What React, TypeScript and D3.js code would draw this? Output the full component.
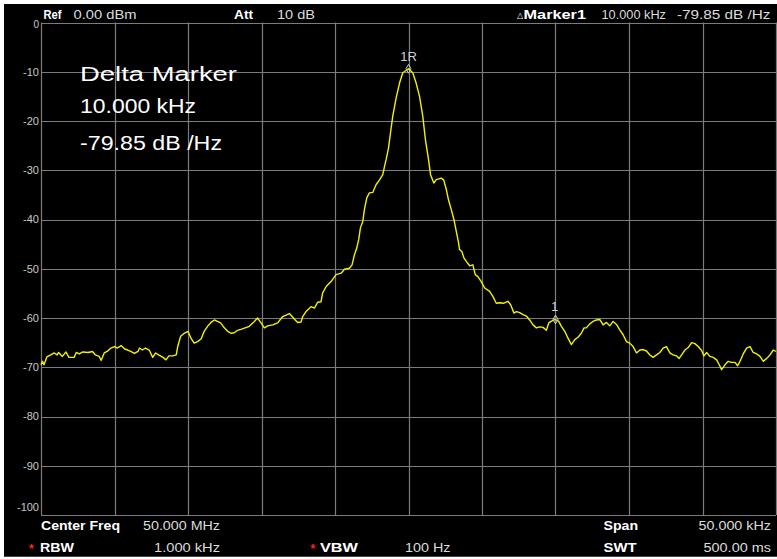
import React from "react";
import * as d3 from "d3";

// ---- data ----
const spanKHz: [number, number] = [-25, 25]; // offset from 50.000 MHz centre
const refLevelDb: [number, number] = [-100, 0];
const yTicks = [0, -10, -20, -30, -40, -50, -60, -70, -80, -90, -100];
const xGridKHz = [-25, -20, -15, -10, -5, 0, 5, 10, 15, 20, 25];

// trace: [offset kHz, level dBm]
const tracePoints: [number, number][] = [
  [-25.0,-69.5],[-24.9,-68.8],[-24.8,-69.5],[-24.6,-67.9],[-24.34,-67.5],[-24.1,-67.1],[-23.9,-67.5],[-23.8,-67.0],
  [-23.55,-67.8],[-23.3,-66.9],[-23.1,-68.0],[-22.75,-68.0],[-22.6,-67.0],[-22.4,-67.3],[-22.15,-66.9],[-21.8,-67.0],
  [-21.5,-66.8],[-21.3,-67.5],[-21.05,-67.8],[-20.9,-68.6],[-20.7,-67.1],[-20.5,-66.8],[-20.25,-66.1],[-20.0,-65.8],
  [-19.8,-66.1],[-19.55,-65.6],[-19.3,-66.3],[-19.1,-66.5],[-18.9,-66.8],[-18.65,-67.2],[-18.4,-66.8],[-18.3,-66.1],
  [-18.1,-66.5],[-17.9,-66.1],[-17.64,-66.5],[-17.4,-68.0],[-17.2,-67.1],[-17.0,-67.5],[-16.7,-68.0],[-16.5,-68.5],
  [-16.3,-67.7],[-16.05,-67.7],[-15.8,-67.5],[-15.7,-65.8],[-15.5,-63.7],[-15.26,-63.1],[-15.0,-62.7],[-14.8,-64.1],
  [-14.58,-65.1],[-14.35,-64.8],[-14.1,-64.2],[-13.9,-62.7],[-13.67,-61.7],[-13.44,-60.9],[-13.2,-60.4],[-13.0,-60.7],
  [-12.78,-61.0],[-12.53,-62.0],[-12.3,-62.7],[-12.08,-63.1],[-11.85,-63.0],[-11.63,-62.5],[-11.4,-62.3],[-10.83,-61.7],
  [-10.49,-60.7],[-10.27,-60.0],[-10.03,-61.0],[-9.81,-62.0],[-9.58,-61.6],[-9.24,-61.4],[-8.9,-61.0],[-8.56,-59.7],
  [-8.1,-59.1],[-7.77,-60.2],[-7.54,-60.9],[-7.31,-60.8],[-7.2,-59.7],[-6.97,-58.7],[-6.63,-57.7],[-6.4,-58.0],
  [-6.18,-56.8],[-5.95,-56.7],[-5.84,-54.9],[-5.6,-53.6],[-5.27,-52.6],[-4.93,-51.2],[-4.58,-50.9],[-4.36,-50.1],
  [-4.02,-49.9],[-3.84,-49.2],[-3.68,-47.2],[-3.52,-45.8],[-3.39,-44.1],[-3.27,-41.7],[-3.11,-40.4],[-3.0,-38.0],
  [-2.84,-35.6],[-2.66,-34.6],[-2.43,-34.5],[-2.2,-32.9],[-1.98,-32.0],[-1.75,-30.9],[-1.63,-29.2],[-1.52,-27.8],
  [-1.36,-25.5],[-1.23,-22.5],[-1.07,-19.0],[-0.84,-15.3],[-0.61,-12.3],[-0.39,-10.2],[0,-9.4],[0.29,-10.2],
  [0.52,-12.3],[0.75,-15.0],[0.97,-19.0],[1.16,-24.0],[1.36,-27.8],[1.5,-30.9],[1.72,-32.6],[1.89,-31.9],
  [2.23,-31.6],[2.4,-32.0],[2.57,-33.9],[2.72,-36.0],[2.91,-38.0],[3.09,-40.0],[3.25,-42.4],[3.41,-44.8],
  [3.47,-46.1],[3.63,-46.5],[3.77,-47.8],[3.93,-48.5],[4.16,-49.4],[4.38,-49.2],[4.54,-51.2],[4.72,-51.6],
  [4.95,-52.6],[5.18,-53.9],[5.52,-54.6],[5.74,-55.6],[5.97,-57.0],[6.2,-56.9],[6.49,-57.0],[6.76,-56.6],
  [6.95,-57.3],[7.17,-59.0],[7.34,-58.7],[7.56,-58.9],[7.79,-59.3],[8.02,-59.6],[8.24,-60.4],[8.47,-61.4],
  [8.7,-62.0],[8.92,-61.8],[9.15,-61.9],[9.38,-62.5],[9.54,-61.0],[9.76,-60.6],[10.0,-60.3],[10.22,-60.7],
  [10.4,-61.7],[10.63,-62.7],[10.85,-64.1],[11.08,-65.4],[11.31,-64.4],[11.53,-63.9],[11.76,-63.1],[11.94,-62.0],
  [12.1,-62.0],[12.33,-61.2],[12.55,-60.7],[12.79,-60.4],[13.01,-60.3],[13.24,-61.4],[13.47,-60.9],[13.69,-61.6],
  [13.92,-60.7],[14.15,-61.3],[14.37,-62.4],[14.6,-63.4],[14.83,-64.8],[15.05,-65.1],[15.28,-65.8],[15.51,-67.1],
  [15.74,-66.5],[15.96,-66.4],[16.19,-66.7],[16.42,-67.5],[16.64,-68.0],[16.87,-67.5],[17.1,-67.0],[17.32,-66.1],
  [17.55,-65.8],[17.78,-67.1],[18.0,-67.5],[18.24,-67.7],[18.41,-68.2],[18.58,-67.5],[18.8,-66.5],[19.03,-66.0],
  [19.26,-65.0],[19.48,-65.2],[19.71,-65.8],[19.94,-66.6],[20.1,-67.7],[20.28,-67.0],[20.5,-67.8],[20.73,-68.0],
  [20.96,-68.5],[21.14,-69.5],[21.3,-70.5],[21.53,-69.5],[21.75,-68.8],[21.98,-69.0],[22.21,-69.0],[22.39,-69.7],
  [22.55,-68.8],[22.77,-67.3],[23.0,-66.1],[23.23,-65.8],[23.45,-67.0],[23.69,-67.3],[23.91,-67.8],[24.14,-68.8],
  [24.37,-68.2],[24.59,-67.5],[24.82,-66.5],[25.0,-66.8],
];

// markers: [offset kHz, level, label]
const markerPoints: [number, number, string][] = [
  [0, -9.4, "1R"],
  [10, -60.3, "1"],
];

const deltaLines = ["Delta Marker", "10.000 kHz", "-79.85 dB /Hz"];

const FONT = "'Liberation Sans', Arial, sans-serif";

function T(props: {
  x: number; y: number; w?: number; text: string; bold?: boolean;
  fill?: string; size?: number; anchor?: string;
}) {
  const { x, y, w, text, bold, fill = "#dcdcdc", size = 12, anchor = "start" } = props;
  return (
    <text
      x={x}
      y={y}
      fontFamily={FONT}
      fontSize={size}
      fontWeight={bold ? "bold" : "normal"}
      fill={fill}
      textAnchor={anchor}
      {...(w ? { textLength: w, lengthAdjust: "spacingAndGlyphs" } : {})}
    >
      {text}
    </text>
  );
}

export default function App() {
  const W = 777, H = 559;
  const x = d3.scaleLinear().domain(spanKHz).range([41, 776]);
  const y = d3.scaleLinear().domain(refLevelDb).range([515, 22.5]);
  const line = d3
    .line<[number, number]>()
    .x((d) => x(d[0]))
    .y((d) => y(d[1]));
  const diamond = d3.symbol().type(d3.symbolDiamond).size(22)();
  const px = (v: number) => Math.round(v) + 0.5;
  const gridColor = "#7c7c7c";

  return (
    <svg
      width={W}
      height={H}
      style={{ position: "absolute", left: 0, top: 0, background: "#ffffff" }}
    >
      <rect x={4} y={4} width={773} height={552} fill="#000000" />
      <line x1={4} x2={777} y1={556.5} y2={556.5} stroke="#4a4a4a" strokeWidth={1} />

      {/* grid */}
      {xGridKHz.map((k) => (
        <line key={"vx" + k} x1={px(x(k))} x2={px(x(k))} y1={y(0)} y2={y(-100)} stroke={gridColor} strokeWidth={1.2} />
      ))}
      {yTicks.map((t) => (
        <line key={"hy" + t} x1={x(-25)} x2={x(25)} y1={px(y(t))} y2={px(y(t))} stroke={gridColor} strokeWidth={1.2} />
      ))}

      {/* y tick labels */}
      {yTicks.map((t) => (
        <text
          key={"yl" + t}
          x={39}
          y={y(t) + (t === -100 ? -8 : 0) + (t === 0 ? 1.5 : 0)}
          dy="0.35em"
          textAnchor="end"
          fontFamily={FONT}
          fontSize={t === 0 ? 10 : 11}
          fill="#c8c8c8"
        >
          {t}
        </text>
      ))}

      {/* trace */}
      <path d={line(tracePoints) || ""} fill="none" stroke="#f2f200" strokeWidth={1.4} strokeLinejoin="round" />

      {/* markers */}
      {markerPoints.map(([f, v, lab]) => (
        <g key={lab}>
          <path d={diamond || ""} transform={`translate(${x(f)},${y(v)})`} fill="none" stroke="#d0d0d0" strokeWidth={1} />
          <text x={x(f) + (lab === "1" ? -1 : 0)} y={y(v) - 8} textAnchor="middle" fontFamily={FONT} fontSize={13} fill="#d0d0d0">
            {lab}
          </text>
        </g>
      ))}

      {/* header */}
      <T x={43.5} y={18.5} w={18} text="Ref" bold fill="#ffffff" />
      <T x={73.5} y={18.5} w={63} text="0.00 dBm" />
      <T x={234} y={18.5} w={19} text="Att" bold fill="#ffffff" />
      <T x={277} y={18.5} w={38} text="10 dB" />
      <T x={517} y={17.5} text="△" size={8} fill="#ffffff" />
      <T x={523.5} y={18.5} w={62.5} text="Marker1" bold fill="#ffffff" />
      <T x={601.5} y={18.5} w={64.5} text="10.000 kHz" />
      <T x={677} y={18.5} w={93.5} text="-79.85 dB /Hz" />

      {/* delta marker annotation */}
      <T x={80} y={81} w={157} text={deltaLines[0]} size={20} fill="#ffffff" />
      <T x={80} y={113} w={116} text={deltaLines[1]} size={20} fill="#ffffff" />
      <T x={80} y={150} w={142} text={deltaLines[2]} size={20} fill="#ffffff" />

      {/* footer */}
      <T x={41} y={530} w={79} text="Center Freq" bold fill="#ffffff" />
      <T x={143} y={530} w={77} text="50.000 MHz" />
      <T x={603.5} y={530} w={34.5} text="Span" bold fill="#ffffff" />
      <T x={698.5} y={530} w={72.5} text="50.000 kHz" />

      <T x={29} y={553} text="*" bold size={12} fill="#ff2020" />
      <T x={40} y={551.5} w={34} text="RBW" bold fill="#ffffff" />
      <T x={154} y={551.5} w={66} text="1.000 kHz" />
      <T x={310.5} y={553} text="*" bold size={12} fill="#ff2020" />
      <T x={320} y={551.5} w={38} text="VBW" bold fill="#ffffff" />
      <T x={405} y={551.5} w={45.5} text="100 Hz" />
      <T x={603.5} y={551.5} w={33} text="SWT" bold fill="#ffffff" />
      <T x={703.5} y={551.5} w={67.5} text="500.00 ms" />
    </svg>
  );
}
